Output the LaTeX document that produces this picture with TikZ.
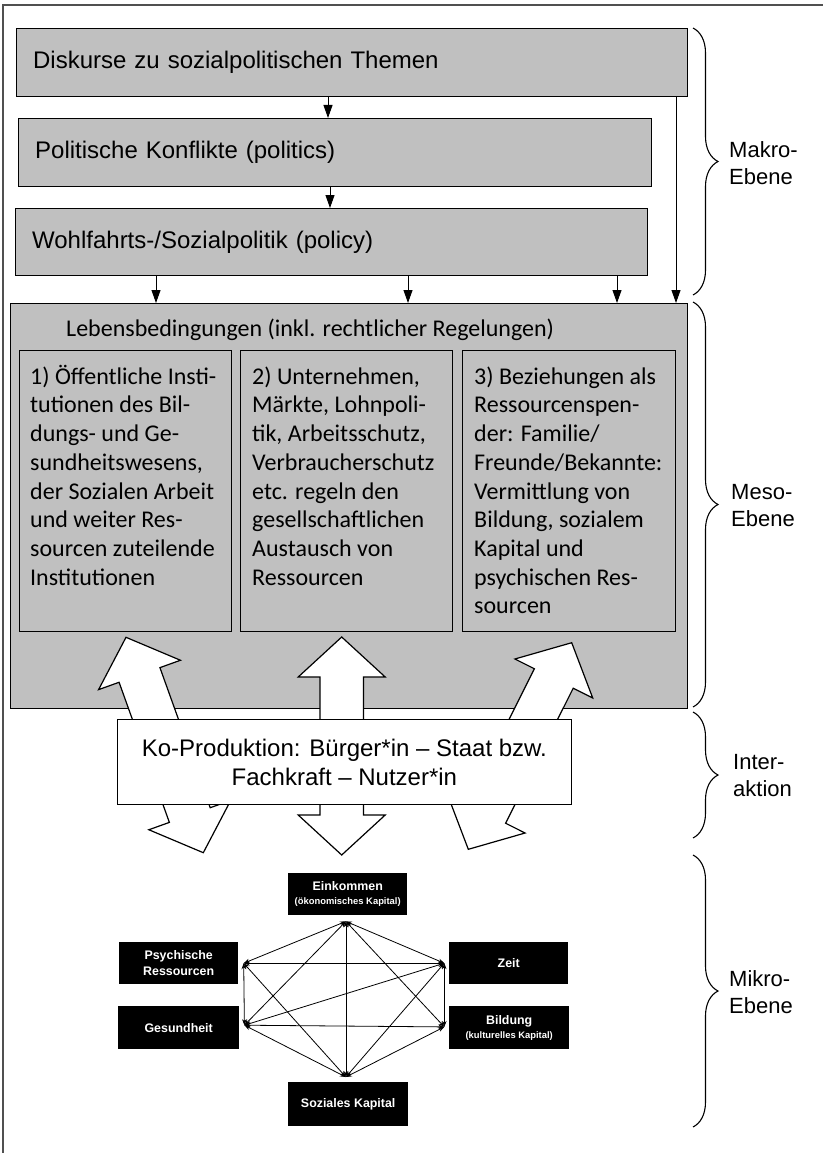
\documentclass[tikz,border=0pt]{standalone}
\usepackage{fontspec}
\setmainfont{Liberation Sans}
\newfontfamily\calfont{Carlito}
\usetikzlibrary{arrows.meta,calc,decorations.pathreplacing}
\definecolor{boxgray}{RGB}{192,192,192}
\definecolor{framegray}{RGB}{80,80,80}
\newcommand\dblblock[2]{%
 \draw[bigarrow] (#1) -- ($(#1)!40pt!(#2)!43.5pt!90:(#2)$) -- ($(#1)!40pt!(#2)!21.7pt!90:(#2)$)
  -- ($(#2)!40pt!(#1)!21.7pt!-90:(#1)$) -- ($(#2)!40pt!(#1)!43.5pt!-90:(#1)$) -- (#2)
  -- ($(#2)!40pt!(#1)!43.5pt!90:(#1)$) -- ($(#2)!40pt!(#1)!21.7pt!90:(#1)$)
  -- ($(#1)!40pt!(#2)!21.7pt!-90:(#2)$) -- ($(#1)!40pt!(#2)!43.5pt!-90:(#2)$) -- cycle;}
\begin{document}
\begin{tikzpicture}[x=1pt,y=-1pt,
  graybox/.style={draw=black, line width=1.3pt, fill=boxgray, inner sep=0pt, anchor=north west},
  toptext/.style={align=left, font=\fontsize{24}{29}\selectfont, inner ysep=0pt, inner xsep=16.5pt},
  inntext/.style={anchor=north west, align=left, inner sep=0pt, font=\calfont\fontsize{24}{28.7}\selectfont},
  smallarr/.style={line width=0.9pt, -{Triangle[length=13pt,width=9pt]}},
  bigarrow/.style={draw=black, line width=1.2pt, fill=white, line join=miter},
  netbox/.style={fill=black, text=white, inner sep=0pt, anchor=north west, align=center,
     font=\bfseries\fontsize{12.4}{16.7}\selectfont},
  netarr/.style={line width=0.8pt, {Stealth[length=6pt,width=4.5pt]}-{Stealth[length=6pt,width=4.5pt]}},
  bracestyle/.style={decorate, decoration={brace, amplitude=25pt, aspect=0.5}, line width=1.1pt},
  levellabel/.style={anchor=west, align=left, inner sep=0pt, font=\fontsize{22}{27}\selectfont}]
\useasboundingbox (0,0) rectangle (823,1153);
\fill[white] (0,0) rectangle (823,1153);
% frame (cropped)
\draw[line width=1.5pt, framegray] (3,1153) -- (3,5) -- (823,5);

% Makro boxes
\node[graybox, toptext, minimum width=671pt, minimum height=68pt, text width=638pt] (b1) at (16,28) {\raisebox{-2pt}{Diskurse zu sozialpolitischen Themen}};
\node[graybox, toptext, minimum width=633pt, minimum height=68pt, text width=600pt] (b2) at (18,118) {\raisebox{-2pt}{Politische Konflikte (politics)}};
\node[graybox, toptext, minimum width=632pt, minimum height=67pt, text width=599pt] (b3) at (15,208) {\raisebox{-2pt}{Wohlfahrts-/Sozialpolitik (policy)}};

% Meso box
\node[graybox, minimum width=677pt, minimum height=405pt] (meso) at (10,303) {};
\node[anchor=west, inner sep=0pt, font=\calfont\fontsize{24}{29}\selectfont] (leb) at (66,330) {Lebensbedingungen (inkl. rechtlicher Regelungen)};
\node[graybox, minimum width=212pt, minimum height=281pt] (m1) at (19,350) {};
\node[graybox, minimum width=212pt, minimum height=281pt] (m2) at (240,350) {};
\node[graybox, minimum width=213pt, minimum height=281pt] (m3) at (462,350) {};
\node[inntext] (t1) at (30,364) {\strut 1) Öffentliche Insti-\\tutionen des Bil-\\dungs- und Ge-\\sundheitswesens,\\der Sozialen Arbeit\\und weiter Res-\\sourcen zuteilende\\Institutionen};
\node[inntext] (t2) at (252,364) {\strut 2) Unternehmen,\\Märkte, Lohnpoli-\\tik, Arbeitsschutz,\\Verbraucherschutz\\etc. regeln den\\gesellschaftlichen\\Austausch von\\Ressourcen};
\node[inntext] (t3) at (474,364) {\strut 3) Beziehungen als\\Ressourcenspen-\\der: Familie/\\Freunde/Bekannte:\\Vermittlung von\\Bildung, sozialem\\Kapital und\\psychischen Res-\\sourcen};

% small arrows
\coordinate (xa) at (328,0);
\coordinate (xb) at (330,0);
\coordinate (xc) at (156,0);
\coordinate (xd) at (408,0);
\coordinate (xe) at (617,0);
\coordinate (xr) at (676,0);
\draw[smallarr] (b1.south -| xa) -- (b2.north -| xa);
\draw[smallarr] (b2.south -| xb) -- (b3.north -| xb);
\draw[smallarr] (b3.south -| xc) -- (meso.north -| xc);
\draw[smallarr] (b3.south -| xd) -- (meso.north -| xd);
\draw[smallarr] (b3.south -| xe) -- (meso.north -| xe);
\draw[smallarr] (b1.south -| xr) -- (meso.north -| xr);

% big double arrows
\coordinate (la) at (126,637.3);
\coordinate (lb) at (203.3,852.7);
\coordinate (ma) at (341.7,637);
\coordinate (mb) at (341.7,855);
\coordinate (ra) at (571.7,642.7);
\coordinate (rb) at (468.3,849.3);
\dblblock{la}{lb}
\dblblock{ma}{mb}
\dblblock{ra}{rb}

% Ko-Produktion
\node[draw=black, line width=1.3pt, fill=white, anchor=north west, inner sep=0pt, minimum width=454.5pt, minimum height=85pt, align=center, font=\fontsize{24}{29}\selectfont] (ko) at (116.5,719) {Ko-Produktion: Bürger*in – Staat bzw.\\Fachkraft – Nutzer*in};

% network
\node[netbox, minimum width=119pt, minimum height=42pt] (nE) at (288,873) {Einkommen\\[-2.7pt]{\fontsize{9.4}{11}\selectfont (ökonomisches Kapital)}};
\node[netbox, minimum width=119pt, minimum height=42pt] (nP) at (119,942) {Psychische\\Ressourcen};
\node[netbox, minimum width=119pt, minimum height=42pt] (nZ) at (449,942) {Zeit};
\node[netbox, minimum width=121pt, minimum height=43pt] (nG) at (118,1006) {Gesundheit};
\node[netbox, minimum width=120pt, minimum height=43pt] (nB) at (449,1006) {Bildung\\[-2.7pt]{\fontsize{9.4}{11}\selectfont (kulturelles Kapital)}};
\node[netbox, minimum width=120pt, minimum height=44pt] (nS) at (288,1082) {Soziales Kapital};
\coordinate (pE) at ($(nE.south)+(-1.8,6)$);
\coordinate (pP) at ($(nP.east)+(5.3,0)$);
\coordinate (pZ) at ($(nZ.west)+(-4.7,0)$);
\coordinate (pG) at ($(nG.east)+(5,-2.5)$);
\coordinate (pB) at ($(nB.west)+(-4.7,-0.8)$);
\coordinate (pS) at ($(nS.north)+(-2.3,-5)$);
\foreach \a/\b in {pE/pP,pE/pG,pE/pS,pE/pZ,pE/pB,pP/pZ,pP/pG,pP/pS,pZ/pG,pZ/pB,pZ/pS,pG/pB,pG/pS,pB/pS}
  \draw[netarr] (\a) -- (\b);

% braces and level labels
\coordinate (k1) at (693,28);  \coordinate (k2) at (693,295);
\coordinate (k3) at (693,302); \coordinate (k4) at (693,707);
\coordinate (k5) at (693,712); \coordinate (k6) at (693,838);
\coordinate (k7) at (693,855); \coordinate (k8) at (693,1127);
\draw[bracestyle] (k1) -- (k2);
\draw[bracestyle] (k3) -- (k4);
\draw[bracestyle] (k5) -- (k6);
\draw[bracestyle] (k7) -- (k8);
\node[levellabel] (lmak) at (729,163) {Makro-\\Ebene};
\node[levellabel] (lmes) at (731,506) {Meso-\\Ebene};
\node[levellabel] (lint) at (733,776) {Inter-\\aktion};
\node[levellabel] (lmik) at (729,992) {Mikro-\\Ebene};
\end{tikzpicture}
\end{document}
